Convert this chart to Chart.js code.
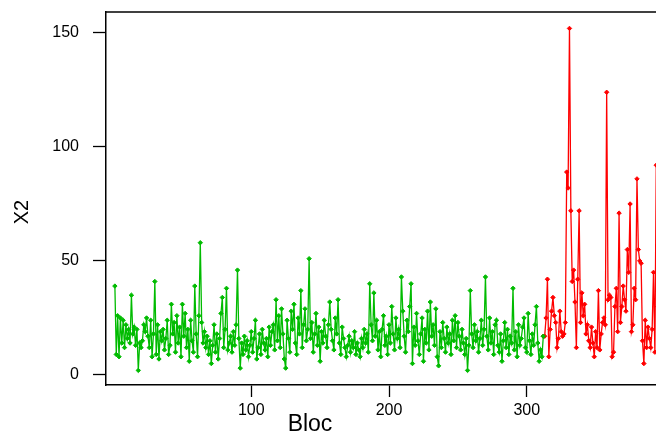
<!DOCTYPE html>
<html>
<head>
<meta charset="utf-8">
<script src="https://cdn.jsdelivr.net/npm/chart.js@4"></script>
<style>
  html, body { margin: 0; padding: 0; background: #fff; overflow: hidden; }
  #wrap { width: 656px; height: 437px; overflow: hidden; }
</style>
</head>
<body>
<div id="wrap"><canvas id="c" width="680" height="437"></canvas></div>
<script>
// valeurs
const greenStart = 1;
const greenVals = [
  39, 9, 26, 8, 25, 14, 24, 12, 22, 16,
  20, 14, 35, 18, 21, 13, 20, 2, 14, 12,
  15, 22, 19, 25, 17, 12, 24, 8, 18, 41,
  9, 22, 7, 19, 15, 20, 11, 16, 24, 9,
  13, 31, 18, 23, 10, 26, 14, 21, 8, 31,
  17, 27, 12, 20, 6, 24, 15, 10, 39, 18,
  8, 26, 58, 23, 14, 19, 12, 17, 9, 15,
  5, 13, 22, 10, 18, 7, 16, 27, 34, 12,
  20, 38, 11, 14, 17, 10, 19, 13, 22, 46,
  16, 3, 14, 9, 17, 11, 15, 8, 13, 19,
  10, 16, 24, 7, 12, 18, 9, 20, 14, 11,
  16, 8, 21, 13, 19, 22, 11, 33, 15, 26,
  12, 29, 18, 7, 3, 24, 16, 10, 28, 20,
  31, 14, 9, 25, 18, 37, 12, 22, 29, 15,
  20, 51, 16, 23, 10, 18, 27, 13, 21, 6,
  19, 14, 24, 17, 12, 22, 32, 20, 15, 11,
  25, 18, 33, 14, 9, 21, 16, 12, 8, 13,
  17, 10, 15, 12, 19, 9, 14, 11, 8, 16,
  12, 20, 14, 18, 10, 40, 22, 15, 36, 17,
  24, 11, 19, 8, 20, 26, 13, 17, 9, 22,
  14, 30, 18, 11, 25, 16, 20, 12, 43, 28,
  17, 10, 24, 19, 30, 40, 5, 21, 13, 27,
  15, 9, 18, 25, 6, 20, 14, 28, 11, 32,
  17, 22, 13, 29, 8, 4, 19, 12, 23, 16,
  10, 21, 14, 18, 9, 24, 15, 26, 12, 23,
  17, 11, 20, 14, 9, 16, 2, 13, 37, 18,
  12, 22, 15, 19, 10, 16, 24, 13, 20, 43,
  17, 11, 25, 14, 19, 9, 22, 24, 13, 10,
  18, 6, 15, 23, 12, 20, 9, 17, 14, 38,
  11, 19, 8, 22, 13, 16, 21, 25, 12, 10,
  27, 15, 9, 18, 13, 22, 30, 14, 6, 11,
  8, 17
];
const redStart = 312;
const redVals = [
  17, 17, 25, 42, 8, 20, 28, 34, 26, 23,
  12, 16, 28, 19, 17, 18, 23, 89, 82, 152,
  72, 41, 46, 32, 12, 42, 72, 23, 36, 26,
  31, 18, 22, 15, 12, 21, 14, 8, 19, 12,
  37, 11, 18, 23, 25, 22, 124, 33, 35, 34,
  8, 10, 30, 38, 19, 71, 23, 30, 39, 33,
  28, 55, 45, 75, 19, 22, 38, 33, 86, 55,
  50, 49, 15, 5, 24, 12, 21, 16, 12, 20,
  45, 10, 92, 30
];
const xTicks = [100, 200, 300];
const yTicks = [0, 50, 100, 150];

const toPoints = (start, vals) => vals.map((v, i) => ({ x: start + i, y: v }));

// cadre + titres
const frame = {
  id: 'frame',
  afterDraw(chart) {
    const { ctx, chartArea: a } = chart;
    ctx.save();
    ctx.strokeStyle = '#000';
    ctx.lineWidth = 1.5;
    ctx.beginPath();
    ctx.moveTo(a.left, a.top);
    ctx.lineTo(chart.width, a.top);
    ctx.stroke();
    ctx.fillStyle = '#000';
    ctx.font = '23px "Liberation Sans", Arial, sans-serif';
    ctx.textAlign = 'center';
    ctx.textBaseline = 'middle';
    ctx.fillText('Bloc', 310, 425);
    ctx.font = '20px "Liberation Sans", Arial, sans-serif';
    ctx.translate(22, 212);
    ctx.rotate(-Math.PI / 2);
    ctx.fillText('X2', 0, 0);
    ctx.restore();
  }
};

const ptStyle = { pointStyle: 'rectRot', pointRadius: 2.2, pointBorderWidth: 1, borderWidth: 1.3, tension: 0 };
const tickFont = { family: '"Liberation Sans", Arial, sans-serif', size: 16 };

new Chart(document.getElementById('c'), {
  type: 'line',
  data: {
    datasets: [
      Object.assign({ data: toPoints(greenStart, greenVals), borderColor: '#00BB00',
        backgroundColor: '#00BB00', pointBackgroundColor: '#00BB00', pointBorderColor: '#00BB00' }, ptStyle),
      Object.assign({ data: toPoints(redStart, redVals), borderColor: '#FF0000',
        backgroundColor: '#FF0000', pointBackgroundColor: '#FF0000', pointBorderColor: '#FF0000' }, ptStyle)
    ]
  },
  options: {
    responsive: false,
    animation: false,
    layout: { padding: { top: 12, right: 0, left: 0, bottom: 0 } },
    plugins: { legend: { display: false }, tooltip: { enabled: false } },
    scales: {
      x: {
        type: 'linear',
        min: -5.45,
        max: 407.6,
        afterBuildTicks: s => { s.ticks = xTicks.map(v => ({ value: v })); },
        afterFit: s => { s.height = 52; s.paddingLeft = 0; s.paddingRight = 0; },
        grid: { drawOnChartArea: false, drawTicks: true, tickLength: 12, tickColor: '#000', tickWidth: 1.3 },
        border: { display: true, color: '#000', width: 1.5 },
        ticks: { color: '#000', padding: 4, maxRotation: 0, font: tickFont }
      },
      y: {
        min: -4.4,
        max: 159.2,
        afterBuildTicks: s => { s.ticks = yTicks.map(v => ({ value: v })); },
        afterFit: s => { s.width = 106; s.paddingTop = 0; s.paddingBottom = 0; },
        grid: { drawOnChartArea: false, drawTicks: true, tickLength: 13, tickColor: '#000', tickWidth: 1.3 },
        border: { display: true, color: '#000', width: 1.5 },
        ticks: { color: '#000', padding: 14, font: tickFont }
      }
    }
  },
  plugins: [frame]
});
</script>
</body>
</html>
